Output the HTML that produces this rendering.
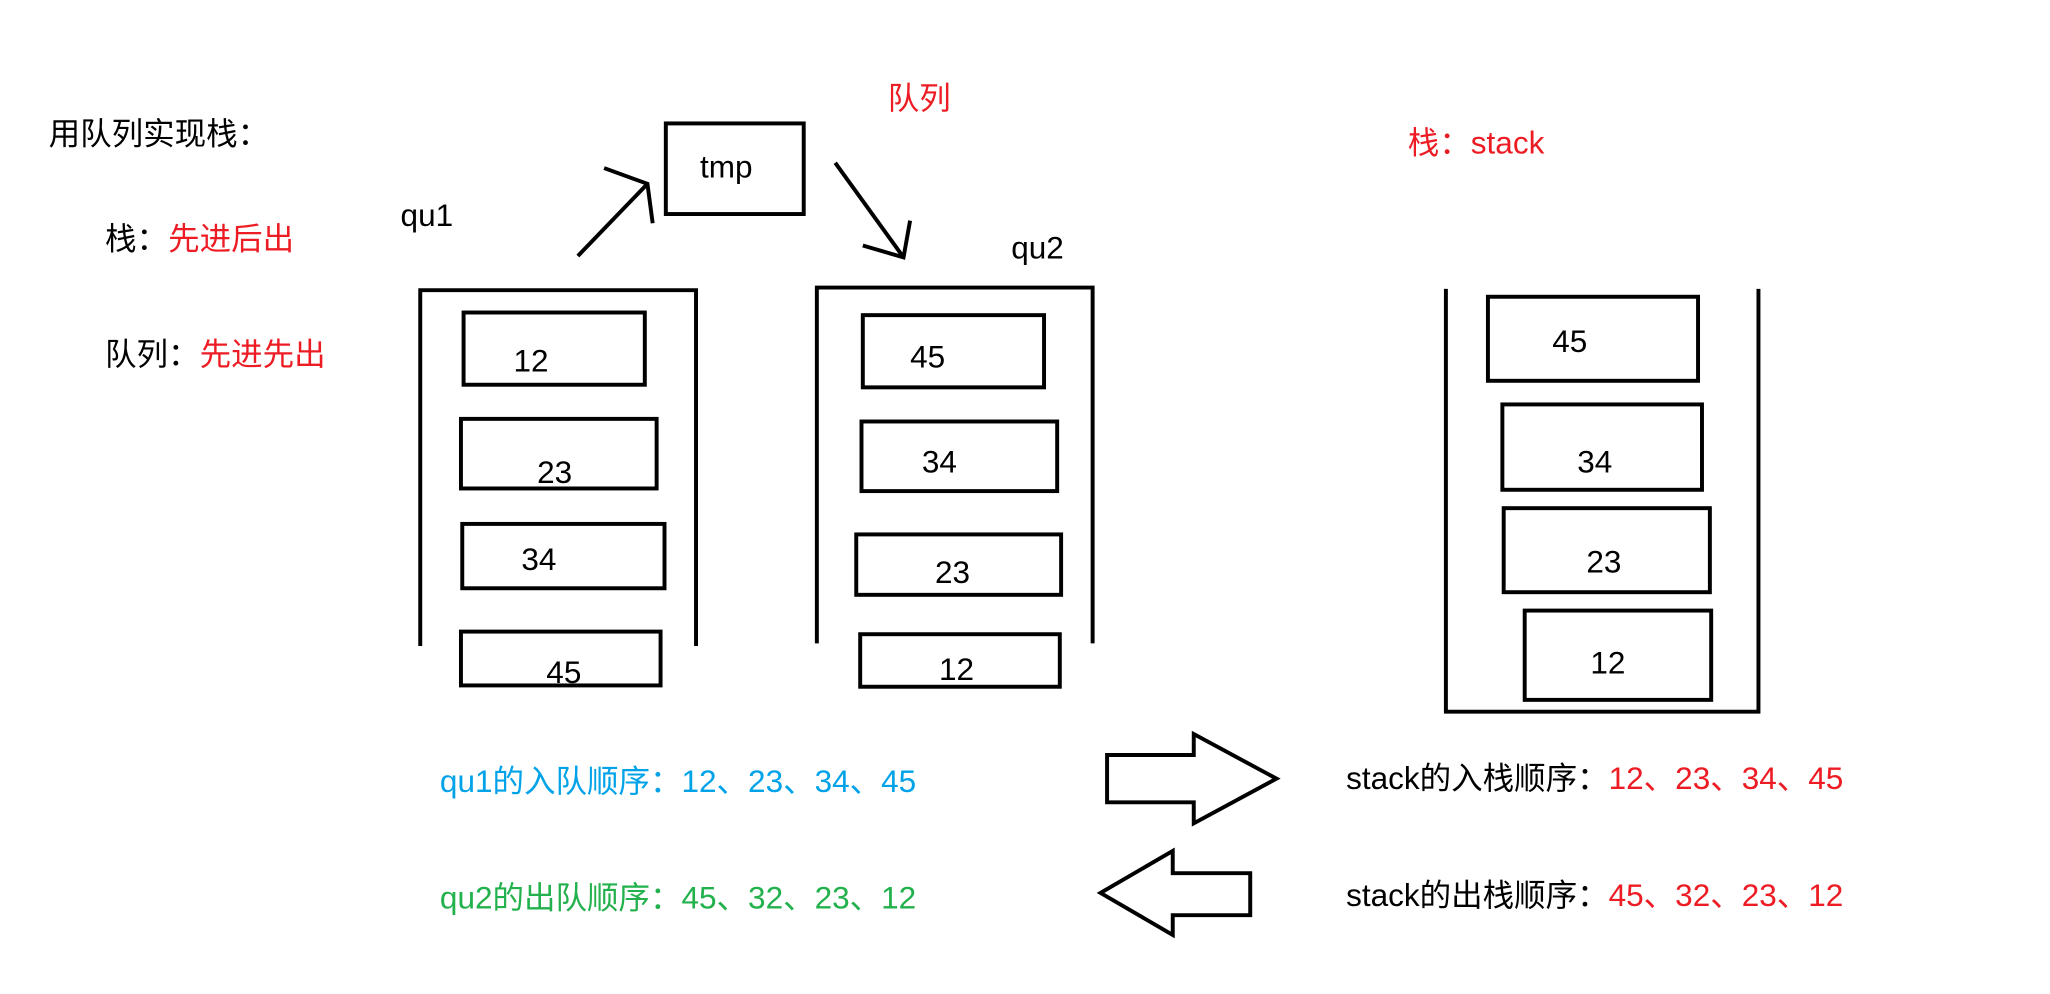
<!DOCTYPE html>
<html><head><meta charset="utf-8"><style>
html,body{margin:0;padding:0;background:#fff;width:2050px;height:994px;overflow:hidden}
svg{display:block}
text{font-family:"Liberation Sans","Noto Sans CJK SC",sans-serif;font-size:24px}
</style></head><body>
<svg width="2050" height="994" viewBox="0 0 1561 757" preserveAspectRatio="none" xmlns="http://www.w3.org/2000/svg">
<g fill="none" stroke="#000" stroke-width="3">
<rect x="507" y="94" width="105" height="69"/>
<path d="M440 195 L493 140 M460 128 L493 140 L497 170"/>
<path d="M636 124 L688 196 M657 187 L688 196 L693 168"/>
<path d="M320 492 V221 H530 V492"/>
<rect x="353" y="238" width="138" height="55"/>
<rect x="351" y="319" width="149" height="53"/>
<rect x="352" y="399" width="154" height="49"/>
<rect x="351" y="481" width="152" height="41"/>
<path d="M622 490 V219 H832 V490"/>
<rect x="657" y="240" width="138" height="55"/>
<rect x="656" y="321" width="149" height="53"/>
<rect x="652" y="407" width="156" height="46"/>
<rect x="655" y="483" width="152" height="40"/>
<path d="M1101 220 V542 H1339 V220"/>
<rect x="1133" y="226" width="160" height="64"/>
<rect x="1144" y="308" width="152" height="65"/>
<rect x="1145" y="387" width="157" height="64"/>
<rect x="1161" y="465" width="142" height="68"/>
<polygon points="843,575 909,575 909,559 972,593 909,627 909,611 843,611"/>
<polygon points="838,680 893,648 893,665 952,665 952,697 893,697 893,712"/>
</g>
<g fill="#000">
<text x="37" y="110">用队列实现栈：</text>
<text x="80" y="190">栈：<tspan fill="#ed1c24">先进后出</tspan></text>
<text x="80" y="278">队列：<tspan fill="#ed1c24">先进先出</tspan></text>
<text x="676" y="83" fill="#ed1c24">队列</text>
<text x="533" y="135">tmp</text>
<text x="305" y="172">qu1</text>
<text x="770" y="197">qu2</text>
<text x="391" y="283">12</text>
<text x="409" y="368">23</text>
<text x="397" y="434">34</text>
<text x="416" y="520">45</text>
<text x="693" y="280">45</text>
<text x="702" y="360">34</text>
<text x="712" y="444">23</text>
<text x="715" y="518">12</text>
<text x="1072" y="117" fill="#ed1c24">栈：stack</text>
<text x="1182" y="268">45</text>
<text x="1201" y="360">34</text>
<text x="1208" y="436">23</text>
<text x="1211" y="513">12</text>
<text x="335" y="603" fill="#00a2e8">qu1的入队顺序：12、23、34、45</text>
<text x="335" y="692" fill="#22b14c">qu2的出队顺序：45、32、23、12</text>
<text x="1025" y="601">stack的入栈顺序：<tspan fill="#ed1c24">12、23、34、45</tspan></text>
<text x="1025" y="690">stack的出栈顺序：<tspan fill="#ed1c24">45、32、23、12</tspan></text>
</g>
</svg>
</body></html>
